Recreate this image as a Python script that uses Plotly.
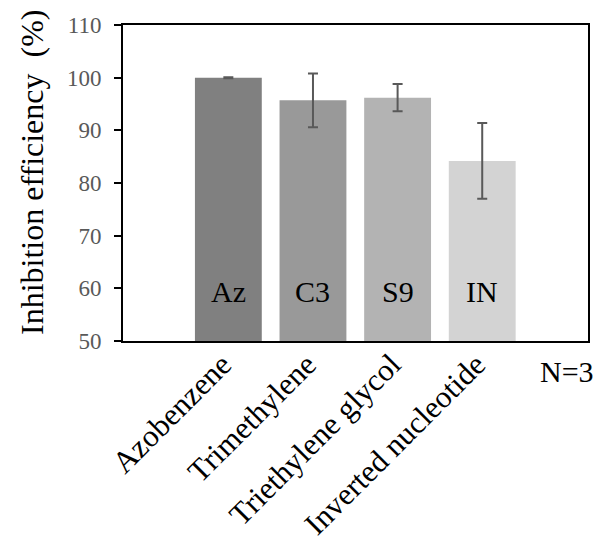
import plotly.graph_objects as go

categories = ["Azobenzene", "Trimethylene", "Triethylene glycol", "Inverted nucleotide"]
short_labels = ["Az", "C3", "S9", "IN"]
values = [100.0, 95.7, 96.2, 84.2]
errors = [0.1, 5.1, 2.6, 7.2]
bar_colors = ["#808080", "#999999", "#b3b3b3", "#d3d3d3"]
positions = [1, 2, 3, 4]
y_ticks = [50, 60, 70, 80, 90, 100, 110]
note_text = "N=3"
y_title = "Inhibition efficiency  (%)"

FONT = "Liberation Serif, Times New Roman, serif"

fig = go.Figure()
fig.add_trace(go.Bar(
    x=positions,
    y=values,
    width=0.79,
    marker=dict(color=bar_colors, line=dict(width=0)),
    error_y=dict(type="data", array=errors, visible=True,
                 color="#595959", thickness=2, width=5),
    showlegend=False,
    hoverinfo="skip",
))

label_y = 59.4
for p, s in zip(positions, short_labels):
    fig.add_annotation(x=p, y=label_y, xref="x", yref="y", text=s,
                       showarrow=False, font=dict(family=FONT, size=30, color="black"),
                       xanchor="center", yanchor="middle")

fig.add_annotation(x=5.0, y=-0.095, xref="x", yref="paper", text=note_text,
                   showarrow=False, font=dict(family=FONT, size=30, color="black"),
                   xanchor="center", yanchor="middle")

fig.add_annotation(x=-0.197, y=0.536, xref="paper", yref="paper", text=y_title,
                   textangle=-90, showarrow=False,
                   font=dict(family=FONT, size=32, color="black"),
                   xanchor="center", yanchor="middle")

fig.update_layout(
    width=596, height=550,
    margin=dict(l=123, r=6, t=25, b=209),
    paper_bgcolor="white", plot_bgcolor="white",
    font=dict(family=FONT),
    xaxis=dict(
        range=[-0.245, 5.25],
        tickvals=positions, ticktext=categories,
        tickangle=-45,
        tickfont=dict(family=FONT, size=31, color="black"),
        ticklabelstandoff=-9,
        ticklabelshift=-6,
        showline=True, linecolor="black", linewidth=2, mirror=True,
        ticks="", showgrid=False, zeroline=False,
    ),
    yaxis=dict(
        range=[50, 110],
        tickvals=y_ticks,
        tickfont=dict(family=FONT, size=23, color="#595959"),
        ticklabelstandoff=8,
        ticks="outside", ticklen=7, tickwidth=2, tickcolor="black",
        showline=True, linecolor="black", linewidth=2, mirror=True,
        showgrid=False, zeroline=False,
    ),
)

fig.write_html("out.html", config={"displayModeBar": False},
               post_script="document.body.style.margin='0';")
